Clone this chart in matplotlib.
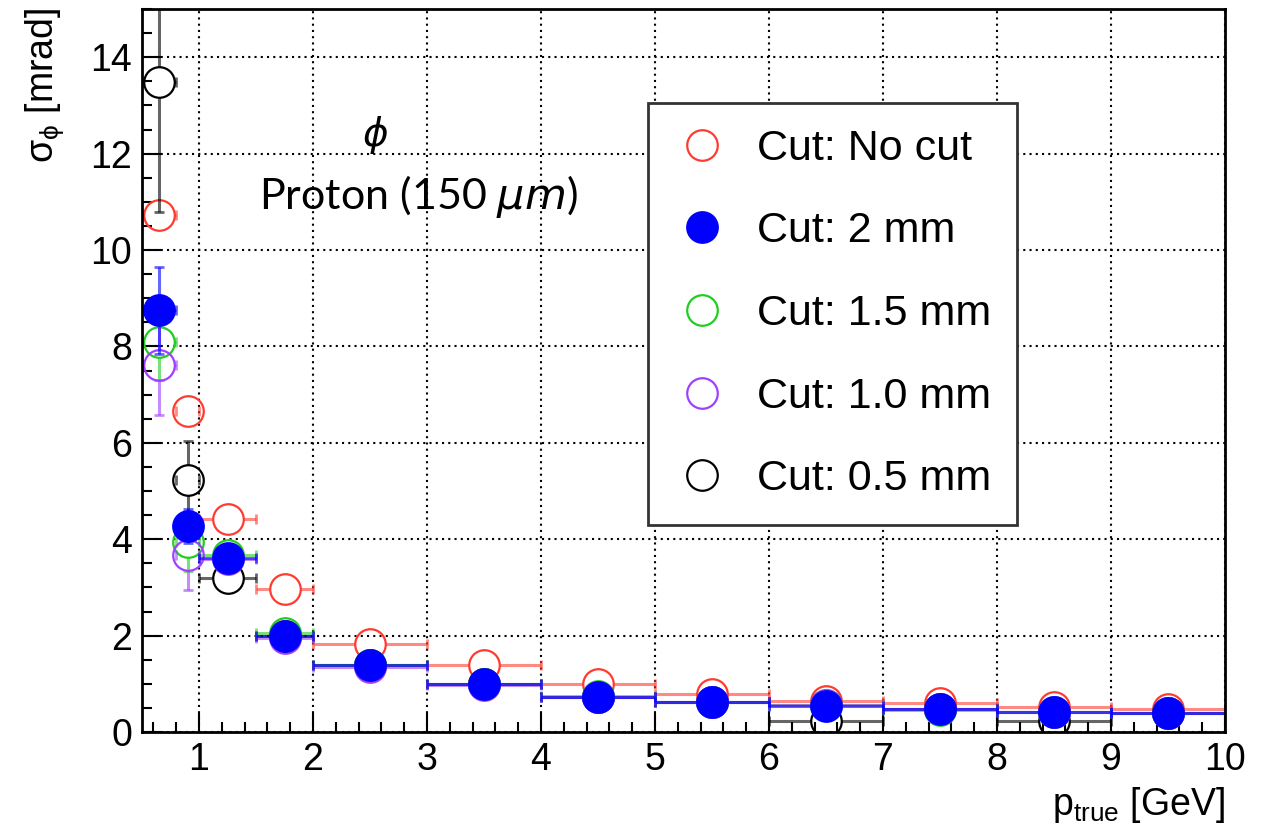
import numpy as np
import matplotlib
matplotlib.use("Agg")
import matplotlib.pyplot as plt
from matplotlib.ticker import MultipleLocator

# bin edges in p_true [GeV]
edges = np.array([0.5, 0.8, 1.0, 1.5, 2, 3, 4, 5, 6, 7, 8, 9, 10])
centers = 0.5 * (edges[1:] + edges[:-1])

# sigma_phi [mrad] per cut
no_cut = [10.73, 6.67, 4.42, 2.96, 1.83, 1.38, 1.00, 0.79, 0.64, 0.60, 0.52, 0.48]
no_cut_err = [0.12, 0.08, 0.08, 0.05, 0.04, 0.03, 0.03, 0.03, 0.03, 0.03, 0.03, 0.03]
cut_2mm = [8.75, 4.27, 3.62, 2.00, 1.38, 1.00, 0.73, 0.63, 0.54, 0.48, 0.42, 0.40]
cut_2mm_err = [0.9, 0.35, 0.15, 0.1, 0.05, 0.03, 0.03, 0.03, 0.03, 0.03, 0.03, 0.03]
cut_15mm = [8.10, 3.94, 3.67, 2.05, 1.40, 1.00, 0.75, 0.63, 0.55, 0.45, 0.42, 0.40]
cut_15mm_err = [0.8, 0.6, 0.15, 0.1, 0.05, 0.03, 0.03, 0.03, 0.03, 0.03, 0.03, 0.03]
cut_10mm = [7.62, 3.67, 3.58, 1.95, 1.35, 0.98, 0.72, 0.62, 0.55, 0.48, 0.42, 0.40]
cut_10mm_err = [1.05, 0.72, 0.15, 0.1, 0.05, 0.03, 0.03, 0.03, 0.03, 0.03, 0.03, 0.03]
cut_05mm = [13.48, 5.23, 3.20, 2.00, 1.38, 1.00, 0.73, 0.63, 0.22, 0.48, 0.22, 0.40]
cut_05mm_err = [2.7, 0.8, 0.15, 0.1, 0.05, 0.03, 0.03, 0.03, 0.03, 0.03, 0.03, 0.03]

plt.rcParams['font.family'] = ['Liberation Sans', 'DejaVu Sans']

fig = plt.figure(figsize=(12.63, 8.32), dpi=100)
ax = fig.add_axes([142/1263, 1 - 732/832, (1225-142)/1263, (732-9)/832])
xmin, xmax, ymin, ymax = 0.5, 10, 0, 15
ax.set_xlim(xmin, xmax)
ax.set_ylim(ymin, ymax)

ms = 22  # marker size in points
r_px = ms / 2 * 100 / 72
rx = r_px * (xmax - xmin) / 1083
ry = r_px * (ymax - ymin) / 723

series = [
    (no_cut, no_cut_err, "#ff3b30", "none", "Cut: No cut"),
    (cut_05mm, cut_05mm_err, "#000000", "none", "Cut: 0.5 mm"),
    (cut_15mm, cut_15mm_err, "#22cc22", "none", "Cut: 1.5 mm"),
    (cut_10mm, cut_10mm_err, "#a040ff", "none", "Cut: 1.0 mm"),
    (cut_2mm, cut_2mm_err, "#0000ff", "#0000ff", "Cut: 2 mm"),
]

handles = {}
for vals, err, col, face, lab in series:
    v = np.array(vals)
    e = np.array(err)
    # ROOT style error bars that stop at the marker edge
    ax.hlines(v, edges[:-1], np.maximum(centers - rx, edges[:-1]), color=col, lw=2.2, alpha=0.6)
    ax.hlines(v, np.minimum(centers + rx, edges[1:]), edges[1:], color=col, lw=2.2, alpha=0.6)
    big = e > ry
    ax.vlines(centers[big], (v + ry)[big], (v + e)[big], color=col, lw=2.2, alpha=0.6)
    ax.vlines(centers[big], (v - e)[big], (v - ry)[big], color=col, lw=2.2, alpha=0.6)
    ax.plot(np.r_[edges[:-1], edges[1:]], np.r_[v, v], ls='none', marker='|', ms=7, mew=2,
            color=col, alpha=0.6)
    ax.plot(np.r_[centers[big], centers[big]], np.r_[(v + e)[big], (v - e)[big]], ls='none',
            marker='_', ms=7, mew=2, color=col, alpha=0.6)
    h, = ax.plot(centers, v, ls='none', marker='o', ms=ms, mfc=face, mec=col, mew=1.6, label=lab)
    handles[lab] = h

ax.xaxis.set_major_locator(MultipleLocator(1))
ax.xaxis.set_minor_locator(MultipleLocator(0.2))
ax.yaxis.set_major_locator(MultipleLocator(2))
ax.yaxis.set_minor_locator(MultipleLocator(0.5))
ax.tick_params(which='both', direction='in', width=1.5, labelsize=27)
ax.tick_params(which='major', length=14, pad=7)
ax.tick_params(which='minor', length=7)
ax.grid(True, which='major', color='black', linestyle=(0, (1, 2)), linewidth=1.5)
for s in ax.spines.values():
    s.set_linewidth(2)

fig.text(45/1263, 1 - 8/832, r'$\mathregular{\sigma_{\phi}}$ [mrad]', rotation=90,
         ha='center', va='top', fontsize=27)
fig.text(1225/1263, 1 - 805/832, r'$\mathregular{p_{true}}$ [GeV]',
         ha='right', va='center', fontsize=27)

fig.text(375/1263, 1 - 135/832, r'$\phi$', ha='center', va='center', fontsize=28)
fig.text(418/1263, 1 - 197/832, r'Proton (150 $\mu m$)', ha='center', va='center',
         fontsize=31, family=['Lato', 'DejaVu Sans'])

order = ["Cut: No cut", "Cut: 2 mm", "Cut: 1.5 mm", "Cut: 1.0 mm", "Cut: 0.5 mm"]
leg = ax.legend([handles[k] for k in order], order, loc='upper left',
                bbox_to_anchor=(648/1263, 1 - 103/832), bbox_transform=fig.transFigure,
                fontsize=31, frameon=True, fancybox=False, edgecolor='#333333',
                borderpad=0.6, labelspacing=0.99, handletextpad=0.6, handlelength=1.33,
                borderaxespad=0, framealpha=1)
leg.get_frame().set_linewidth(2)

fig.savefig("out.png", dpi=100)
